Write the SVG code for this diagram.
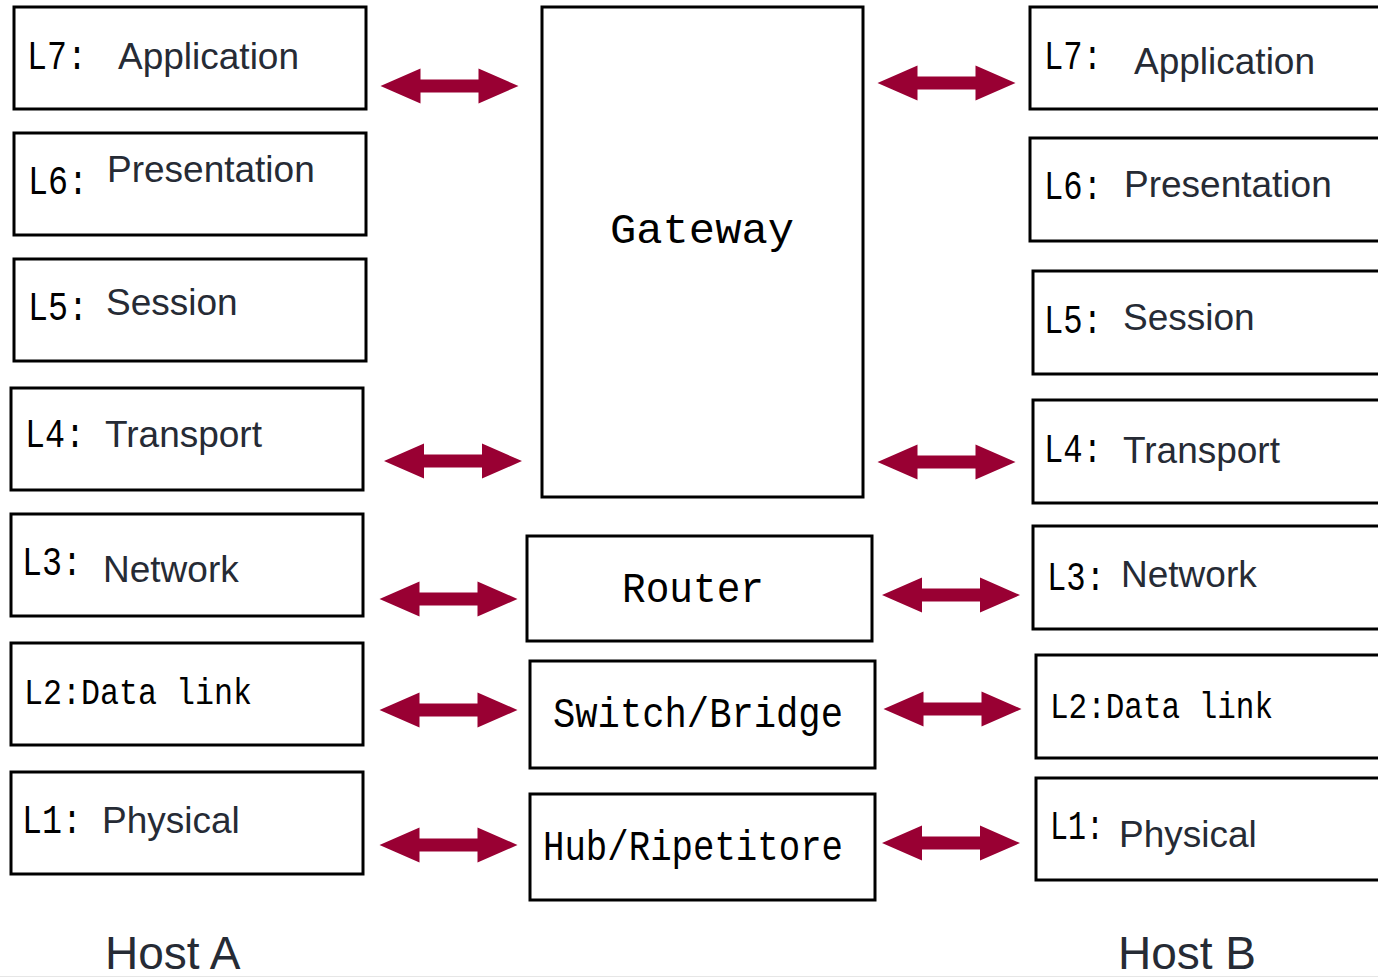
<svg xmlns="http://www.w3.org/2000/svg" width="1378" height="980" viewBox="0 0 1378 980">
  <style>
    .box { fill: #ffffff; stroke: #000000; stroke-width: 3; }
    .px { font-family: "Liberation Mono", "DejaVu Sans Mono", monospace; fill: #000000; }
    .lay { font-family: "Liberation Mono", "DejaVu Sans Mono", monospace; font-size: 40px; fill: #000000; }
    .name { font-family: "Liberation Sans", Arial, sans-serif; font-size: 37px; fill: #262b35; }
    .host { font-family: "Liberation Sans", Arial, sans-serif; font-size: 46px; fill: #262b35; }
    .arrow { fill: #990033; }
  </style>
  <defs>
    <path id="dbl" class="arrow" d="M-69,0 L-29,-17.5 L-29,-6.5 L29,-6.5 L29,-17.5 L69,0 L29,17.5 L29,6.5 L-29,6.5 L-29,17.5 Z"/>
  </defs>
  <rect x="0" y="0" width="1378" height="980" fill="#ffffff"/>
  <line x1="0" y1="976.5" x2="1378" y2="976.5" stroke="#e6e6e6" stroke-width="1"/>

  <!-- Host A stack -->
  <g id="a-l7"><rect class="box" x="14" y="7" width="352" height="102"/><text class="lay" x="27" y="69" textLength="60" lengthAdjust="spacingAndGlyphs">L7:</text><text class="name" x="118" y="69">Application</text></g>
  <g id="a-l6"><rect class="box" x="14" y="133" width="352" height="102"/><text class="lay" x="28" y="194" textLength="60" lengthAdjust="spacingAndGlyphs">L6:</text><text class="name" x="107" y="182">Presentation</text></g>
  <g id="a-l5"><rect class="box" x="14" y="259" width="352" height="102"/><text class="lay" x="28" y="320" textLength="60" lengthAdjust="spacingAndGlyphs">L5:</text><text class="name" x="106" y="315">Session</text></g>
  <g id="a-l4"><rect class="box" x="11" y="388" width="352" height="102"/><text class="lay" x="25" y="447" textLength="60" lengthAdjust="spacingAndGlyphs">L4:</text><text class="name" x="105" y="447">Transport</text></g>
  <g id="a-l3"><rect class="box" x="11" y="514" width="352" height="102"/><text class="lay" x="22" y="575" textLength="60" lengthAdjust="spacingAndGlyphs">L3:</text><text class="name" x="103" y="582">Network</text></g>
  <g id="a-l2"><rect class="box" x="11" y="643" width="352" height="102"/><text class="px" x="24" y="704" font-size="37" textLength="228" lengthAdjust="spacingAndGlyphs">L2:Data link</text></g>
  <g id="a-l1"><rect class="box" x="11" y="772" width="352" height="102"/><text class="lay" x="22" y="833" textLength="60" lengthAdjust="spacingAndGlyphs">L1:</text><text class="name" x="102" y="833">Physical</text></g>

  <!-- Intermediate devices -->
  <g id="gateway"><rect class="box" x="542" y="7" width="321" height="490"/><text class="px" x="610" y="243" font-size="43" textLength="184" lengthAdjust="spacingAndGlyphs">Gateway</text></g>
  <g id="router"><rect class="box" x="527" y="536" width="345" height="105"/><text class="px" x="622" y="602" font-size="43" textLength="142" lengthAdjust="spacingAndGlyphs">Router</text></g>
  <g id="switch"><rect class="box" x="530" y="661" width="345" height="107"/><text class="px" x="553" y="727" font-size="43" textLength="290" lengthAdjust="spacingAndGlyphs">Switch/Bridge</text></g>
  <g id="hub"><rect class="box" x="530" y="794" width="345" height="106"/><text class="px" x="543" y="860" font-size="43" textLength="300" lengthAdjust="spacingAndGlyphs">Hub/Ripetitore</text></g>

  <!-- Host B stack -->
  <g id="b-l7"><rect class="box" x="1030" y="7" width="400" height="102"/><text class="lay" x="1044" y="69" textLength="58" lengthAdjust="spacingAndGlyphs">L7:</text><text class="name" x="1134" y="74">Application</text></g>
  <g id="b-l6"><rect class="box" x="1030" y="138" width="400" height="103"/><text class="lay" x="1044" y="199" textLength="58" lengthAdjust="spacingAndGlyphs">L6:</text><text class="name" x="1124" y="197">Presentation</text></g>
  <g id="b-l5"><rect class="box" x="1033" y="271" width="400" height="103"/><text class="lay" x="1044" y="333" textLength="58" lengthAdjust="spacingAndGlyphs">L5:</text><text class="name" x="1123" y="330">Session</text></g>
  <g id="b-l4"><rect class="box" x="1033" y="400" width="400" height="103"/><text class="lay" x="1044" y="462" textLength="58" lengthAdjust="spacingAndGlyphs">L4:</text><text class="name" x="1123" y="463">Transport</text></g>
  <g id="b-l3"><rect class="box" x="1033" y="526" width="400" height="103"/><text class="lay" x="1047" y="590" textLength="58" lengthAdjust="spacingAndGlyphs">L3:</text><text class="name" x="1121" y="587">Network</text></g>
  <g id="b-l2"><rect class="box" x="1036" y="655" width="400" height="103"/><text class="px" x="1050" y="718" font-size="37" textLength="223" lengthAdjust="spacingAndGlyphs">L2:Data link</text></g>
  <g id="b-l1"><rect class="box" x="1036" y="778" width="400" height="102"/><text class="lay" x="1050" y="839" textLength="54" lengthAdjust="spacingAndGlyphs">L1:</text><text class="name" x="1119" y="847">Physical</text></g>

  <!-- Connectors -->
  <g id="connectors">
    <use href="#dbl" transform="translate(449.5,86)"/>
    <use href="#dbl" transform="translate(453,461)"/>
    <use href="#dbl" transform="translate(448.5,599)"/>
    <use href="#dbl" transform="translate(448.5,710)"/>
    <use href="#dbl" transform="translate(448.5,845)"/>
    <use href="#dbl" transform="translate(946.5,83)"/>
    <use href="#dbl" transform="translate(946.5,462)"/>
    <use href="#dbl" transform="translate(951,595)"/>
    <use href="#dbl" transform="translate(952.5,709)"/>
    <use href="#dbl" transform="translate(951,843)"/>
  </g>

  <!-- Host labels -->
  <g id="host-a"><text class="host" x="105" y="969">Host A</text></g>
  <g id="host-b"><text class="host" x="1118" y="969">Host B</text></g>
</svg>
